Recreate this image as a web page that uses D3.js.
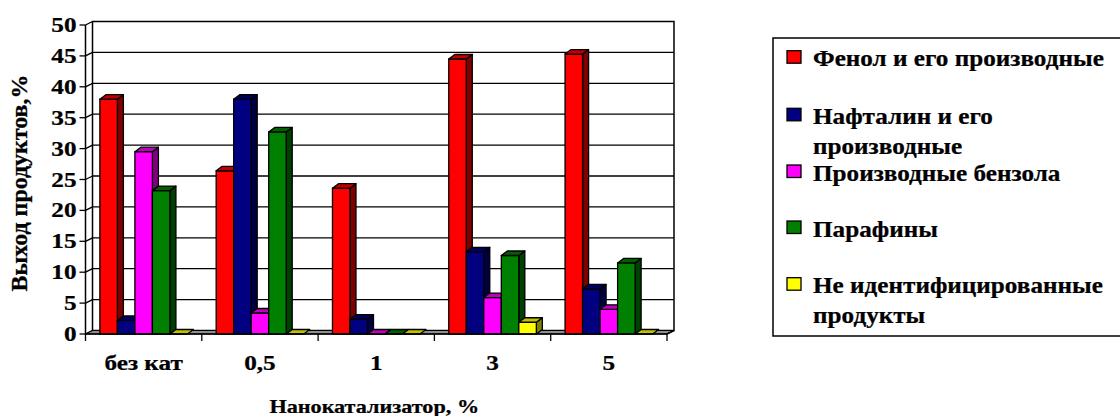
<!DOCTYPE html>
<html>
<head>
<meta charset="utf-8">
<script src="https://cdn.jsdelivr.net/npm/d3@7"></script>
<style>
  html, body { margin: 0; padding: 0; background: #fff; }
  svg { display: block; }
  text { stroke: #000; stroke-width: 0.25; }
</style>
</head>
<body>
<svg id="chart" width="1120" height="416" font-family="'Liberation Serif', 'Times New Roman', 'DejaVu Serif', serif" font-weight="bold"></svg>
<script>
// Catalyst loading (categories) and product yields, %
const categories = ["без кат", "0,5", "1", "3", "5"];
const seriesNames = [
  "Фенол и его производные",
  "Нафталин и его производные",
  "Производные бензола",
  "Парафины",
  "Не идентифицированные продукты"
];
const phenol      = [38.0, 26.4, 23.6, 44.5, 45.3];
const naphthalene = [2.2, 38.0, 2.4, 13.3, 7.3];
const benzene     = [29.5, 3.4, 0, 5.9, 4.0];
const paraffins   = [23.2, 32.7, 0, 12.7, 11.5];
const unknown     = [0, 0, 0, 1.9, 0];
const yTicks = [0, 5, 10, 15, 20, 25, 30, 35, 40, 45, 50];

// Legend line breaks
const legendLines = [
  ["Фенол и его производные"],
  ["Нафталин и его", "производные"],
  ["Производные бензола"],
  ["Парафины"],
  ["Не идентифицированные", "продукты"]
];

const seriesValues = [phenol, naphthalene, benzene, paraffins, unknown];
const colors = [
  { front: "#ff0000", top: "#c00000", side: "#800000" },
  { front: "#000080", top: "#000060", side: "#000040" },
  { front: "#ff00ff", top: "#c000c0", side: "#800080" },
  { front: "#008000", top: "#006000", side: "#004000" },
  { front: "#ffff00", top: "#c0c000", side: "#808000" }
];

const svg = d3.select("#chart");
const SX = 1.2;      // horizontal text stretch, axes
const SX_LEG = 1.12; // horizontal text stretch, legend

// Plot geometry (front plane)
const x0 = 85.5, x1 = 667;
const wall = { dx: 7, dy: -3.5 };   // depth of side wall / floor
const bar  = { dx: 6, dy: -4.5 };   // depth of each column

const y = d3.scaleLinear().domain([0, 50]).range([334, 25]);
const xCat = d3.scaleBand().domain(categories).range([x0, x1]).paddingInner(0).paddingOuter(0);
const xSer = d3.scaleBand().domain(d3.range(seriesNames.length))
  .range([0, xCat.bandwidth()]).paddingInner(0).paddingOuter(0.82);

const g = svg.append("g");

// Back wall
g.append("rect")
  .attr("x", x0 + wall.dx).attr("y", y(50) + wall.dy)
  .attr("width", x1 - x0).attr("height", y(0) - y(50))
  .attr("fill", "#fff").attr("stroke", "#000").attr("stroke-width", 1.5);

// Gridlines on back wall and side wall
yTicks.forEach(t => {
  const yy = y(t);
  if (t > 0 && t < 50) {
    g.append("line")
      .attr("x1", x0 + wall.dx).attr("x2", x1 + wall.dx)
      .attr("y1", yy + wall.dy).attr("y2", yy + wall.dy)
      .attr("stroke", "#000").attr("stroke-width", 1.3);
  }
  g.append("line")
    .attr("x1", x0).attr("y1", yy)
    .attr("x2", x0 + wall.dx).attr("y2", yy + wall.dy)
    .attr("stroke", "#000").attr("stroke-width", 1.3);
  // tick mark
  g.append("line")
    .attr("x1", x0 - 6).attr("x2", x0)
    .attr("y1", yy).attr("y2", yy)
    .attr("stroke", "#000").attr("stroke-width", 1.3);
  g.append("text")
    .attr("transform", `translate(${x0 - 9},${yy + 7}) scale(${SX},1)`)
    .attr("text-anchor", "end")
    .attr("font-size", 21)
    .text(t);
});

// Side wall front edge (value axis)
g.append("line")
  .attr("x1", x0).attr("x2", x0).attr("y1", y(0)).attr("y2", y(50))
  .attr("stroke", "#000").attr("stroke-width", 1.5);

// Floor
g.append("path")
  .attr("d", `M${x0},${y(0)} L${x0 + wall.dx},${y(0) + wall.dy} L${x1 + wall.dx},${y(0) + wall.dy} L${x1},${y(0)} Z`)
  .attr("fill", "#8f8f8f").attr("stroke", "#000").attr("stroke-width", 1.2);

// Columns
const poly = pts => "M" + pts.map(p => p.join(",")).join("L") + "Z";
categories.forEach((cat, ci) => {
  seriesValues.forEach((vals, si) => {
    const v = vals[ci];
    const xl = xCat(cat) + xSer(si);
    const w = xSer.bandwidth();
    const yb = y(0), yt = y(v);
    const c = colors[si];
    const cg = g.append("g");
    if (v > 0) {
      cg.append("path")
        .attr("d", poly([[xl + w, yt], [xl + w + bar.dx, yt + bar.dy], [xl + w + bar.dx, yb + bar.dy], [xl + w, yb]]))
        .attr("fill", c.side).attr("stroke", "#000").attr("stroke-width", 1.3).attr("stroke-linejoin", "round");
      cg.append("rect")
        .attr("x", xl).attr("y", yt).attr("width", w).attr("height", yb - yt)
        .attr("fill", c.front).attr("stroke", "#000").attr("stroke-width", 1.3);
    }
    cg.append("path")
      .attr("d", poly([[xl, yt], [xl + bar.dx, yt + bar.dy], [xl + w + bar.dx, yt + bar.dy], [xl + w, yt]]))
      .attr("fill", c.top).attr("stroke", "#000").attr("stroke-width", 1.3).attr("stroke-linejoin", "round");
  });
});

// Category axis
g.append("line")
  .attr("x1", x0).attr("x2", x1).attr("y1", y(0)).attr("y2", y(0))
  .attr("stroke", "#000").attr("stroke-width", 1.5);
g.append("line")
  .attr("x1", x1).attr("y1", y(0)).attr("x2", x1 + wall.dx).attr("y2", y(0) + wall.dy)
  .attr("stroke", "#000").attr("stroke-width", 1.5);
categories.concat([null]).forEach(cat => {
  const xx = cat === null ? x1 : xCat(cat);
  g.append("line")
    .attr("x1", xx).attr("x2", xx).attr("y1", y(0)).attr("y2", y(0) + 7)
    .attr("stroke", "#000").attr("stroke-width", 1.3);
});
categories.forEach(cat => {
  g.append("text")
    .attr("transform", `translate(${xCat(cat) + xCat.bandwidth() / 2},${370}) scale(${SX},1)`)
    .attr("text-anchor", "middle")
    .attr("font-size", 21)
    .text(cat);
});

// Axis titles
svg.append("text")
  .attr("transform", `translate(${(x0 + x1) / 2 - 2},${413}) scale(${SX},1)`)
  .attr("text-anchor", "middle")
  .attr("font-size", 18.5)
  .text("Нанокатализатор, %");
svg.append("text")
  .attr("transform", `translate(27,183) rotate(-90) scale(1.26,${SX})`)
  .attr("text-anchor", "middle")
  .attr("font-size", 19)
  .text("Выход продуктов,%");

// Legend
const lg = svg.append("g");
lg.append("rect")
  .attr("x", 773).attr("y", 38).attr("width", 360).attr("height", 298)
  .attr("fill", "#fff").attr("stroke", "#000").attr("stroke-width", 1.5);
const rowY = [50.7, 108.3, 165, 221, 277.7];
seriesNames.forEach((name, i) => {
  lg.append("rect")
    .attr("x", 787).attr("y", rowY[i]).attr("width", 14).attr("height", 12.5)
    .attr("fill", colors[i].front).attr("stroke", "#000").attr("stroke-width", 1.3);
  legendLines[i].forEach((line, li) => {
    lg.append("text")
      .attr("transform", `translate(813,${rowY[i] + 15.5 + li * 30}) scale(${SX_LEG},1)`)
      .attr("font-size", 22.5)
      .text(line);
  });
});
</script>
</body>
</html>
